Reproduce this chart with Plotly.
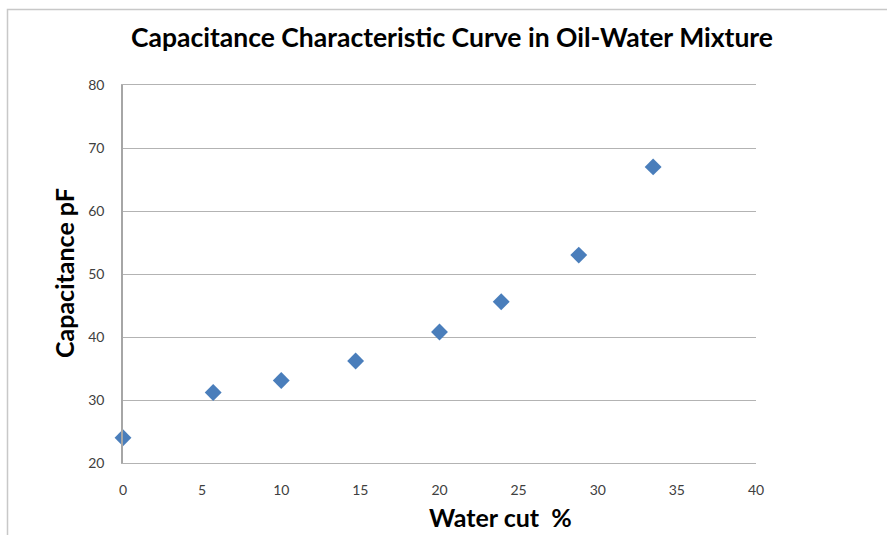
import plotly.graph_objects as go

water_cut = [0, 5.7, 10, 14.7, 20, 23.9, 28.8, 33.5]
capacitance = [24.0, 31.2, 33.1, 36.2, 40.8, 45.6, 53.0, 67.0]

x_ticks = [0, 5, 10, 15, 20, 25, 30, 35, 40]
y_ticks = [20, 30, 40, 50, 60, 70, 80]

title_text = "Capacitance Characteristic Curve in Oil-Water Mixture"
x_title = "Water cut  %"
y_title = "Capacitance pF"

W, H = 887, 535
L, R, T, B = 123, 131, 85, 72
pw, ph = W - L - R, H - T - B

def px_x(p):
    return (p - L) / pw

def px_y(p):
    return (H - B - p) / ph

fig = go.Figure()
fig.add_trace(go.Scatter(
    x=water_cut, y=capacitance, mode="markers",
    marker=dict(symbol="diamond", size=13, color="#4A7EBB",
                line=dict(width=0)),
    showlegend=False, cliponaxis=False,
))

tick_font = dict(family="Lato, Open Sans, sans-serif", size=14, color="#404040")
bold_font = "Lato, Open Sans, sans-serif"

fig.update_layout(
    width=W, height=H,
    margin=dict(l=L, r=R, t=T, b=B, pad=0),
    paper_bgcolor="white", plot_bgcolor="white",
    title=dict(text="<b>" + title_text + "</b>", x=px_x(452), xref="paper",
               xanchor="center",
               y=1 - 38 / H, yanchor="middle", yref="container",
               font=dict(family=bold_font, size=26.5, color="black")),
    xaxis=dict(range=[0, 40], tickvals=x_ticks, showgrid=False,
               zeroline=False, showline=True, mirror=True,
               linecolor="#B3B3B3", linewidth=1, ticks="",
               tickfont=tick_font, ticklabelstandoff=14),
    yaxis=dict(range=[20, 80], tickvals=y_ticks, showgrid=True,
               gridcolor="#B3B3B3", gridwidth=1, zeroline=False,
               showline=True, linecolor="#A6A6A6", linewidth=1.5,
               ticks="", tickfont=tick_font, ticklabelstandoff=14),
    annotations=[
        dict(text="<b>" + x_title + "</b>", xref="paper", yref="paper",
             x=px_x(500), y=px_y(533), xanchor="center", yanchor="bottom",
             showarrow=False, borderpad=0,
             font=dict(family=bold_font, size=25, color="black")),
        dict(text="<b>" + y_title + "</b>", xref="paper", yref="paper",
             x=px_x(64), y=px_y(273), xanchor="center", yanchor="middle",
             textangle=-90, showarrow=False,
             font=dict(family=bold_font, size=25, color="black")),
    ],
    shapes=[
        dict(type="rect", xref="paper", yref="paper",
             x0=px_x(7.5), x1=px_x(900), y0=px_y(560), y1=px_y(9.5),
             line=dict(color="#C8C8C8", width=1.5), fillcolor="rgba(0,0,0,0)",
             layer="below"),
    ],
)

fig.write_html("out.html")
